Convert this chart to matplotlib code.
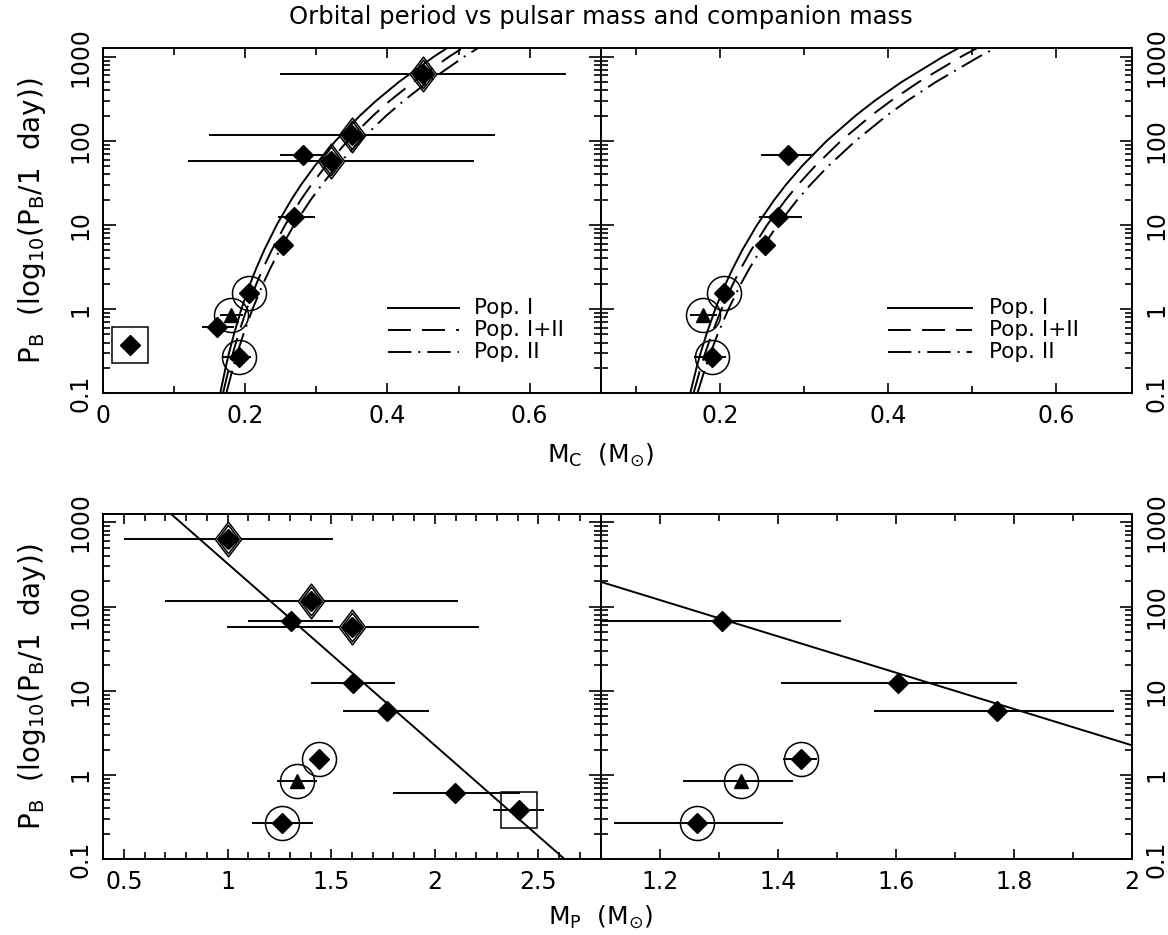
import numpy as np
import matplotlib
matplotlib.use("Agg")
import matplotlib.pyplot as plt
from matplotlib.path import Path
from matplotlib.ticker import FixedLocator, MultipleLocator, LogLocator, FuncFormatter, NullFormatter

plt.rcParams['font.family'] = ['DejaVu Sans']
plt.rcParams['mathtext.fontset'] = 'dejavusans'

nan = np.nan

# ---- binary pulsars (same order in every array) ----
pb = [0.38, 0.61, 0.85, 0.27, 1.54, 5.8, 12.4, 67, 57, 118, 630]
mc = [0.037, 0.160, 0.180, 0.191, 0.205, 0.253, 0.269, 0.281, 0.320, 0.350, 0.450]
mc_lo = [nan, 0.140, 0.165, 0.170, nan, nan, 0.247, 0.250, 0.120, 0.150, 0.250]
mc_hi = [nan, 0.183, 0.195, 0.206, nan, nan, 0.296, 0.310, 0.520, 0.550, 0.650]
mp = [2.404, 2.099, 1.337, 1.263, 1.440, 1.771, 1.603, 1.305, 1.601, 1.403, 1.004]
mp_lo = [2.284, 1.804, 1.241, 1.124, 1.410, 1.564, 1.407, 1.102, 1.004, 0.705, 0.507]
mp_hi = [2.524, 2.404, 1.425, 1.407, 1.465, 1.967, 1.804, 1.505, 2.206, 2.105, 1.505]
kind = ['box', 'plain', 'ring_tri', 'ring', 'ring', 'plain', 'plain', 'plain',
        'open', 'open', 'open']
in_right = [False, False, True, True, True, True, True, True, False, False, False]

# ---- theoretical Pb - Mc curves ----
curve_pb = [0.1, 0.2, 0.3, 0.5, 1, 2, 3, 5, 10, 20, 30, 50, 100, 200, 300, 500, 1000, 1300]
mc_pop1 = [0.1646, 0.1720, 0.1769, 0.1838, 0.1943, 0.2067, 0.2149, 0.2263, 0.2440,
           0.2647, 0.2783, 0.2974, 0.3269, 0.3614, 0.3841, 0.4159, 0.4652, 0.4859]
mc_pop12 = [0.1685, 0.1769, 0.1824, 0.1900, 0.2018, 0.2155, 0.2244, 0.2369, 0.2560,
            0.2782, 0.2927, 0.3129, 0.3439, 0.3799, 0.4035, 0.4363, 0.4867, 0.5079]
mc_pop2 = [0.1731, 0.1825, 0.1886, 0.1971, 0.2100, 0.2249, 0.2346, 0.2480, 0.2685,
           0.2921, 0.3074, 0.3287, 0.3612, 0.3985, 0.4229, 0.4566, 0.5081, 0.5296]
pop_labels = ['Pop. I', 'Pop. I+II', 'Pop. II']

# straight line in the Pb - Mp panels
fit_mp = [0.4, 2.8]
fit_pb = [6400, 0.042]

W, H = 1168, 935
LW = 1.4
FS = 17
dash_styles = [None, (11.8, 5.7), (12, 3.6, 1, 3.6)]

tall_diamond = Path([(0, 0.5), (0.38, 0), (0, -0.5), (-0.38, 0), (0, 0.5)],
                    [Path.MOVETO, Path.LINETO, Path.LINETO, Path.LINETO, Path.CLOSEPOLY])


def make_ax(x0, x1, y0, y1):
    return plt.gcf().add_axes([x0 / W, 1 - y1 / H, (x1 - x0) / W, (y1 - y0) / H])


def style_ax(ax, xlim, xmajor, right=False):
    ax.set_yscale('log')
    ax.set_ylim(0.1, 10 ** 3.1)
    ax.set_xlim(*xlim)
    ax.xaxis.set_major_locator(FixedLocator(xmajor))
    ax.xaxis.set_minor_locator(MultipleLocator(0.1))
    ax.xaxis.set_major_formatter(FuncFormatter(lambda v, p: '%g' % round(v, 3)))
    ax.yaxis.set_major_locator(FixedLocator([0.1, 1, 10, 100, 1000]))
    ax.yaxis.set_minor_locator(LogLocator(base=10, subs=range(2, 10)))
    ax.yaxis.set_major_formatter(FuncFormatter(lambda v, p: '%g' % v))
    ax.yaxis.set_minor_formatter(NullFormatter())
    ax.tick_params(which='both', direction='in', top=True, right=True, width=1.2,
                   labelsize=FS)
    ax.tick_params(axis='x', which='major', length=7, pad=8)
    ax.tick_params(axis='x', which='minor', length=5)
    ax.tick_params(axis='y', which='major', length=9, labelrotation=90)
    ax.tick_params(axis='y', which='minor', length=5)
    if right:
        ax.tick_params(axis='y', labelleft=False, labelright=True, pad=9)
    else:
        ax.tick_params(axis='y', pad=8)
    for lbl in ax.get_yticklabels():
        lbl.set_verticalalignment('center')
    for s in ax.spines.values():
        s.set_linewidth(LW)


def draw_points(ax, xs, lo, hi, only_right=False):
    for i in range(len(pb)):
        if only_right and not in_right[i]:
            continue
        y = pb[i]
        if not np.isnan(lo[i]):
            ax.plot([lo[i], hi[i]], [y, y], color='k', lw=LW, zorder=2)
        k = kind[i]
        if k == 'open':
            ax.plot(xs[i], y, marker=tall_diamond, ms=25, mfc='white', mec='k',
                    mew=1.1, zorder=3)
            ax.plot(xs[i], y, marker=tall_diamond, ms=20.5, mfc='none', mec='k',
                    mew=1.1, zorder=3)
        if k == 'ring_tri':
            ax.plot(xs[i], y, marker='^', ms=10, color='k', zorder=4)
        else:
            ax.plot(xs[i], y, marker='D', ms=10, color='k', zorder=4)
        if k in ('ring', 'ring_tri'):
            ax.plot(xs[i], y, marker='o', ms=24.5, mfc='none', mec='k', mew=1.1, zorder=4)
        if k == 'box':
            ax.plot(xs[i], y, marker='s', ms=26, mfc='none', mec='k', mew=1.1, zorder=4)


def draw_curves(ax, x0, x1, xt):
    for m, ds in zip([mc_pop1, mc_pop12, mc_pop2], dash_styles):
        if ds is None:
            ax.plot(m, curve_pb, color='k', lw=LW, zorder=5)
        else:
            ax.plot(m, curve_pb, color='k', lw=LW, dashes=ds, zorder=5)
    for yy, ds, lab in zip([0.246, 0.183, 0.120], dash_styles, pop_labels):
        if ds is None:
            ax.plot([x0, x1], [yy, yy], color='k', lw=LW, transform=ax.transAxes)
        else:
            ax.plot([x0, x1], [yy, yy], color='k', lw=LW, dashes=ds, transform=ax.transAxes)
        ax.text(xt, yy, lab, transform=ax.transAxes, va='center', ha='left', fontsize=15.5)


fig = plt.figure(figsize=(W / 100, H / 100), dpi=100)

ax_tl = make_ax(103.3, 600.6, 48.3, 393.3)
ax_tr = make_ax(600.6, 1132, 48.3, 393.3)
ax_bl = make_ax(103.3, 600.6, 514, 859)
ax_br = make_ax(600.6, 1132, 514, 859)

style_ax(ax_tl, (0, 0.7), [0, 0.2, 0.4, 0.6])
style_ax(ax_tr, (0.058, 0.69), [0.2, 0.4, 0.6], right=True)
style_ax(ax_bl, (0.4, 2.8), [0.5, 1, 1.5, 2, 2.5])
style_ax(ax_br, (1.1, 2.0), [1.2, 1.4, 1.6, 1.8, 2.0], right=True)

draw_points(ax_tl, mc, mc_lo, mc_hi)
draw_points(ax_tr, mc, mc_lo, mc_hi, only_right=True)
draw_points(ax_bl, mp, mp_lo, mp_hi)
draw_points(ax_br, mp, mp_lo, mp_hi, only_right=True)

draw_curves(ax_tl, 0.573, 0.716, 0.746)
draw_curves(ax_tr, 0.540, 0.699, 0.730)

for ax in (ax_bl, ax_br):
    ax.plot(fit_mp, fit_pb, color='k', lw=LW, zorder=5)

ylab = r'P$_\mathregular{B}$  (log$_\mathregular{10}$(P$_\mathregular{B}$/1  day))'
fig.text(31.7 / W, 1 - 220.8 / H, ylab, rotation=90, ha='center', va='center', fontsize=20)
fig.text(31.7 / W, 1 - 686.5 / H, ylab, rotation=90, ha='center', va='center', fontsize=20)

fig.text(600.6 / W, 1 - 463 / H, r'M$_\mathregular{C}$  (M$_\mathregular{⊙}$)', ha='center',
         va='baseline', fontsize=18)
fig.text(600.6 / W, 1 - 925 / H, r'M$_\mathregular{P}$  (M$_\mathregular{⊙}$)', ha='center',
         va='baseline', fontsize=18)

fig.text(600.6 / W, 1 - 24 / H, 'Orbital period vs pulsar mass and companion mass',
         ha='center', va='baseline', fontsize=17.5)

fig.savefig('out.png', dpi=100)
